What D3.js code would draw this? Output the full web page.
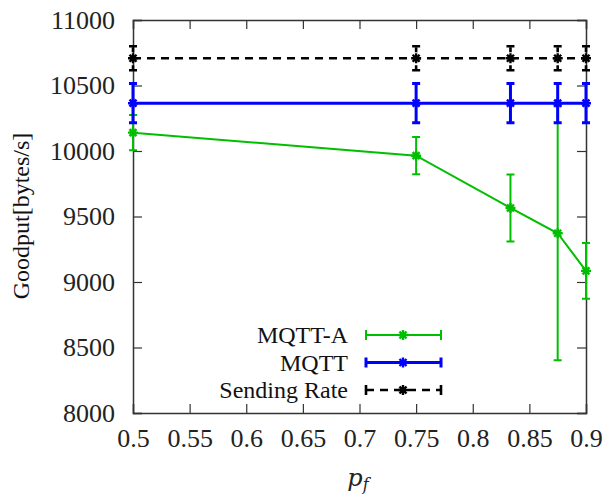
<!DOCTYPE html>
<html>
<head>
<meta charset="utf-8">
<script src="https://cdn.jsdelivr.net/npm/d3@7"></script>
<style>
  body { margin: 0; background: #fff; }
  .tick text { font-family: "Liberation Serif", serif; }
</style>
</head>
<body>
<script>
  // x positions (p_f)
  var pf = [0.5, 0.75, 0.8333, 0.875, 0.9];

  // series means and error half-widths
  var mqttA = [10140, 9964, 9565, 9372, 9085];
  var mqttAErr = [135, 142, 255, 970, 212];
  var mqtt = [10365, 10365, 10365, 10365, 10365];
  var mqttErr = [150, 150, 150, 150, 150];
  var sending = [10708, 10708, 10708, 10708, 10708];
  var sendingErr = [92, 92, 92, 92, 92];

  var xTicks = [0.5, 0.55, 0.6, 0.65, 0.7, 0.75, 0.8, 0.85, 0.9];
  var yTicks = [8000, 8500, 9000, 9500, 10000, 10500, 11000];

  var w = 603;
  var h = 499;

  var margin = {
    top: 20,
    bottom: 86,
    left: 133,
    right: 17
  };

  var width = w - margin.left - margin.right;
  var height = h - margin.top - margin.bottom;

  var svg = d3.select("body").append("svg")
              .attr("width", w)
              .attr("height", h);

  var chart = svg.append("g")
              .attr("transform", "translate(" + margin.left + "," + margin.top + ")");

  var x = d3.scaleLinear().domain([0.5, 0.9]).range([0, width]);
  var y = d3.scaleLinear().domain([8000, 11000]).range([height, 0]);

  var series = [
    {name: "MQTT-A", values: mqttA, err: mqttAErr, color: "#00bf00", lw: 2, dash: null},
    {name: "MQTT", values: mqtt, err: mqttErr, color: "#0000ff", lw: 3, dash: null},
    {name: "Sending Rate", values: sending, err: sendingErr, color: "#000000", lw: 2.6, dash: "8,6"}
  ];

  // axes with inward ticks on all sides
  var fmtX = function(d){ return String(+d.toFixed(2)); };
  chart.append("g")
      .attr("transform", "translate(0," + height + ")")
      .call(d3.axisBottom(x).tickValues(xTicks).tickSize(-9).tickPadding(16).tickFormat(fmtX));
  chart.append("g")
      .call(d3.axisTop(x).tickValues(xTicks).tickSize(-9).tickFormat(""));
  chart.append("g")
      .call(d3.axisLeft(y).tickValues(yTicks).tickSize(-9).tickPadding(18).tickFormat(d3.format("d")));
  chart.append("g")
      .attr("transform", "translate(" + width + ",0)")
      .call(d3.axisRight(y).tickValues(yTicks).tickSize(-9).tickFormat(""));

  chart.selectAll(".domain").attr("stroke", "#333").attr("stroke-width", 1.5);
  chart.selectAll(".tick line").attr("stroke", "#333").attr("stroke-width", 1.2);
  chart.selectAll(".tick text")
      .attr("font-size", 26)
      .attr("fill", "#222");

  var line = d3.line()
      .x(function(d){ return x(d.x); })
      .y(function(d){ return y(d.y); });

  function star(g, cx, cy, color, r) {
    var p = "M" + (cx - r) + "," + cy + "H" + (cx + r) +
            "M" + cx + "," + (cy - r) + "V" + (cy + r) +
            "M" + (cx - r * 0.7) + "," + (cy - r * 0.7) + "L" + (cx + r * 0.7) + "," + (cy + r * 0.7) +
            "M" + (cx - r * 0.7) + "," + (cy + r * 0.7) + "L" + (cx + r * 0.7) + "," + (cy - r * 0.7);
    g.append("path").attr("d", p).attr("stroke", color).attr("stroke-width", 2.4).attr("fill", "none");
  }

  series.forEach(function(s){
    var pts = pf.map(function(v, i){ return {x: v, y: s.values[i], e: s.err[i]}; });
    var g = chart.append("g");

    g.append("path")
        .datum(pts)
        .attr("d", line)
        .attr("fill", "none")
        .attr("stroke", s.color)
        .attr("stroke-width", s.lw)
        .attr("stroke-dasharray", s.dash);

    var cap = 4;
    pts.forEach(function(d){
      var cx = x(d.x), y0 = y(d.y - d.e), y1 = y(d.y + d.e);
      g.append("path")
          .attr("d", "M" + cx + "," + y0 + "V" + y1)
          .attr("fill", "none")
          .attr("stroke", s.color)
          .attr("stroke-width", s.lw)
          .attr("stroke-dasharray", s.dash ? "5,4" : null);
      g.append("path")
          .attr("d", "M" + (cx - cap) + "," + y0 + "H" + (cx + cap) +
                     "M" + (cx - cap) + "," + y1 + "H" + (cx + cap))
          .attr("fill", "none")
          .attr("stroke", s.color)
          .attr("stroke-width", s.lw);
      star(g, cx, y(d.y), s.color, 5);
    });
  });

  // legend
  var legend = svg.append("g");
  series.forEach(function(s, i){
    var ly = 335 + i * 27.5;
    legend.append("text")
        .attr("x", 348)
        .attr("y", ly + 8)
        .attr("text-anchor", "end")
        .attr("font-family", "Liberation Serif, serif")
        .attr("font-size", 24)
        .attr("fill", "#111")
        .text(s.name);
    legend.append("path")
        .attr("d", "M366," + ly + "H441")
        .attr("stroke", s.color)
        .attr("stroke-width", s.lw)
        .attr("stroke-dasharray", s.dash);
    legend.append("path")
        .attr("d", "M366," + (ly - 5) + "V" + (ly + 5) + "M441," + (ly - 5) + "V" + (ly + 5))
        .attr("stroke", s.color)
        .attr("stroke-width", s.lw);
    star(legend, 403, ly, s.color, 5);
  });

  // axis titles
  svg.append("text")
      .attr("text-anchor", "middle")
      .attr("transform", "translate(29,216) rotate(-90)")
      .attr("font-family", "Liberation Serif, serif")
      .attr("font-size", 24)
      .attr("fill", "#111")
      .text("Goodput[bytes/s]");

  var xl = svg.append("text")
      .attr("x", 358)
      .attr("y", 486)
      .attr("text-anchor", "middle")
      .attr("font-family", "DejaVu Serif, serif")
      .attr("font-style", "italic")
      .attr("font-size", 24)
      .attr("fill", "#222");
  xl.append("tspan").text("p");
  xl.append("tspan").attr("dy", 4).attr("font-size", 16).text("f");
</script>
</body>
</html>
